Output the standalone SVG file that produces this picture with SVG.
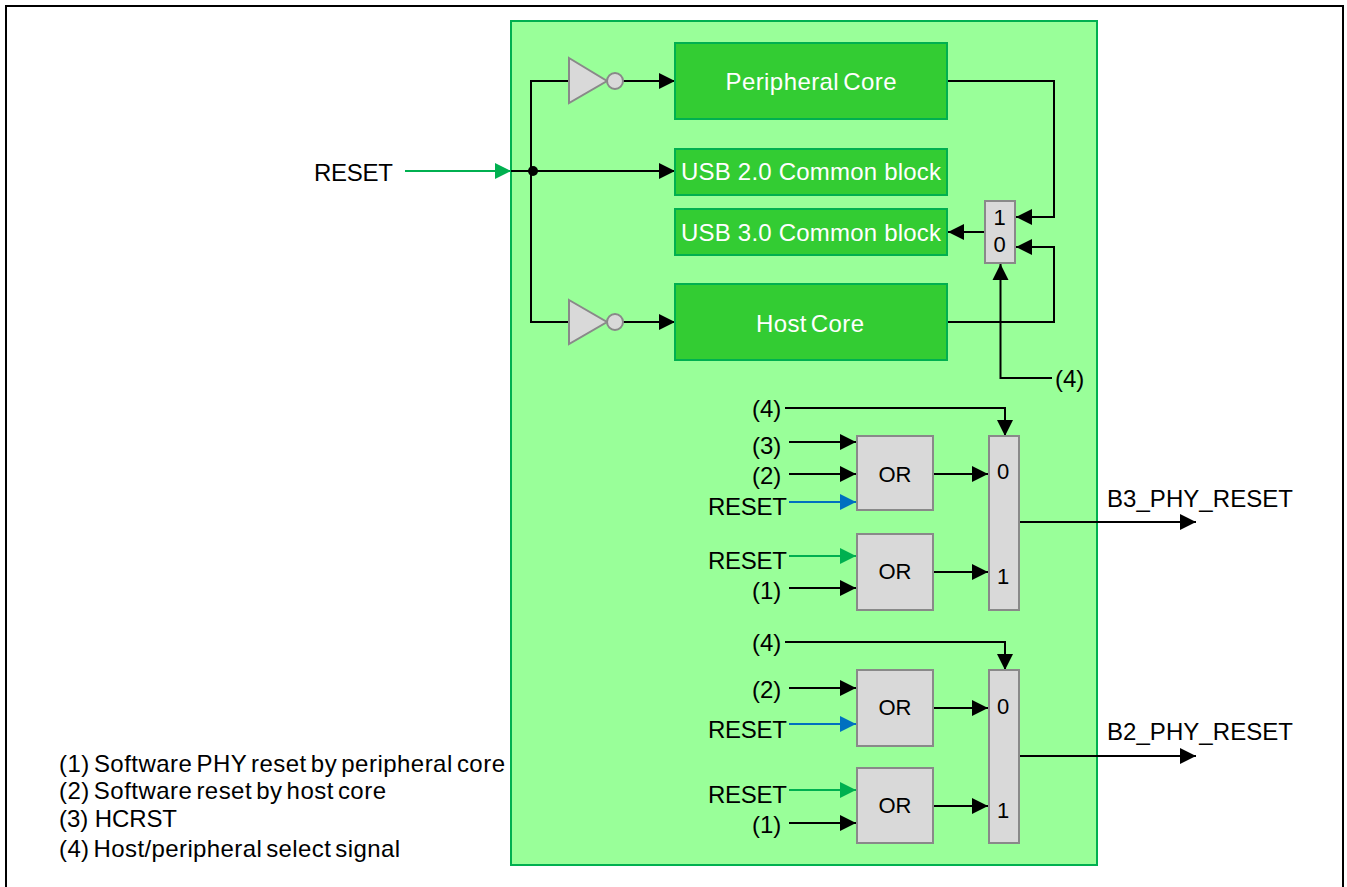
<svg xmlns="http://www.w3.org/2000/svg" width="1347" height="887" viewBox="0 0 1347 887">
<defs>
<marker id="ak" markerUnits="userSpaceOnUse" markerWidth="16" markerHeight="16" refX="16" refY="8" orient="auto" overflow="visible"><path d="M0 0L16 8L0 16Z" fill="#000"/></marker>
<marker id="ag" markerUnits="userSpaceOnUse" markerWidth="16" markerHeight="16" refX="16" refY="8" orient="auto" overflow="visible"><path d="M0 0L16 8L0 16Z" fill="#00B050"/></marker>
<marker id="ab" markerUnits="userSpaceOnUse" markerWidth="16" markerHeight="16" refX="16" refY="8" orient="auto" overflow="visible"><path d="M0 0L16 8L0 16Z" fill="#0070C0"/></marker>
</defs>
<style>
text{font-family:"Liberation Sans",Arial,sans-serif;font-size:24px;fill:#000}
.w{fill:#fff}
.m{text-anchor:middle}
.s{font-size:22px}
.t{word-spacing:-3px}
.core{fill:#33CC33;stroke:#00B050;stroke-width:2}
.gate{fill:#D9D9D9;stroke:#898989;stroke-width:2}
.k,.g,.b{fill:none;stroke-width:2}
.k{stroke:#000;marker-end:url(#ak)}
.n{fill:none;stroke:#000;stroke-width:2}
.g{stroke:#00B050;marker-end:url(#ag)}
.b{stroke:#0070C0;marker-end:url(#ab)}
</style>
<rect x="0" y="0" width="1347" height="887" fill="#fff"/>
<rect id="frame" x="6" y="6" width="1337" height="890" fill="#fff" stroke="#000" stroke-width="2"/>
<rect id="panel" x="511" y="21" width="586" height="844" fill="#99FF99" stroke="#00B050" stroke-width="2"/>

<g id="connectors">
<path class="g" d="M405 171H511"/>
<path class="n" d="M511 171H533"/>
<path class="k" d="M533 171H675"/>
<path class="n" d="M569 81H531V322H569"/>
<path class="k" d="M623 81H675"/>
<path class="k" d="M623 322H675"/>
<path class="k" d="M947 81H1054V217H1016"/>
<path class="k" d="M947 322H1054V247H1016"/>
<path class="k" d="M984 232H948"/>
<path class="k" d="M1052 378H1000.500V264"/>
<path class="k" d="M785 408H1005V436"/>
<path class="k" d="M789 442H856"/>
<path class="k" d="M789 474H856"/>
<path class="b" d="M789 502H856"/>
<path class="g" d="M789 556H856"/>
<path class="k" d="M789 588H856"/>
<path class="k" d="M933 474H988"/>
<path class="k" d="M933 572H988"/>
<path class="k" d="M1019 522H1196"/>
<path class="k" d="M785 642H1005V670"/>
<path class="k" d="M789 688H856"/>
<path class="b" d="M789 724H856"/>
<path class="g" d="M789 790H856"/>
<path class="k" d="M789 823H856"/>
<path class="k" d="M933 708H988"/>
<path class="k" d="M933 806H988"/>
<path class="k" d="M1019 756H1196"/>
<circle cx="533" cy="171" r="5" fill="#000"/>
</g>

<g id="inv-top"><path class="gate" d="M569 58L607 81L569 103Z"/><circle class="gate" cx="615" cy="81" r="8"/></g>
<g id="inv-bottom"><path class="gate" d="M569 300L607 322L569 344Z"/><circle class="gate" cx="615" cy="322" r="8"/></g>

<g id="peripheral-core"><rect class="core" x="675" y="43" width="272" height="76"/><text class="w m t" x="811" y="90" textLength="171">Peripheral Core</text></g>
<g id="usb2"><rect class="core" x="675" y="149" width="272" height="46"/><text class="w m" x="811" y="180" textLength="260">USB 2.0 Common block</text></g>
<g id="usb3"><rect class="core" x="675" y="209" width="272" height="46"/><text class="w m" x="811" y="241" textLength="260">USB 3.0 Common block</text></g>
<g id="host-core"><rect class="core" x="675" y="284" width="272" height="76"/><text class="w m t" x="810" y="332" textLength="108">Host Core</text></g>

<g id="mux-top"><rect class="gate" x="985" y="201" width="30" height="62"/><text class="m s" x="999.500" y="225">1</text><text class="m s" x="999.500" y="252">0</text></g>
<g id="sel-top"><text x="1055" y="387">(4)</text></g>

<g id="or-1"><rect class="gate" x="857" y="436" width="76" height="74"/><text class="m s" x="895" y="482">OR</text></g>
<g id="or-2"><rect class="gate" x="857" y="534" width="76" height="76"/><text class="m s" x="895" y="579">OR</text></g>
<g id="mux-b3"><rect class="gate" x="989" y="436" width="30" height="174"/><text class="m s" x="1003" y="479">0</text><text class="m s" x="1003" y="584">1</text></g>
<g id="or-3"><rect class="gate" x="857" y="670" width="76" height="76"/><text class="m s" x="895" y="715">OR</text></g>
<g id="or-4"><rect class="gate" x="857" y="768" width="76" height="75"/><text class="m s" x="895" y="813">OR</text></g>
<g id="mux-b2"><rect class="gate" x="989" y="670" width="30" height="173"/><text class="m s" x="1003" y="714">0</text><text class="m s" x="1003" y="818">1</text></g>

<g id="labels">
<text x="314" y="181" textLength="79">RESET</text>
<text x="752" y="417">(4)</text>
<text x="752" y="454">(3)</text>
<text x="752" y="484">(2)</text>
<text x="708" y="515" textLength="79">RESET</text>
<text x="708" y="569" textLength="79">RESET</text>
<text x="752" y="599">(1)</text>
<text x="752" y="651">(4)</text>
<text x="752" y="698">(2)</text>
<text x="708" y="738" textLength="79">RESET</text>
<text x="708" y="803" textLength="79">RESET</text>
<text x="752" y="833">(1)</text>
<text x="1107" y="507" textLength="186">B3_PHY_RESET</text>
<text x="1107" y="740" textLength="186">B2_PHY_RESET</text>
<text class="t" x="59" y="772" textLength="446">(1) Software PHY reset by peripheral core</text>
<text class="t" x="59" y="799" textLength="327">(2) Software reset by host core</text>
<text x="59" y="827" textLength="118">(3) HCRST</text>
<text class="t" x="59" y="857" textLength="341">(4) Host/peripheral select signal</text>
</g>
</svg>
